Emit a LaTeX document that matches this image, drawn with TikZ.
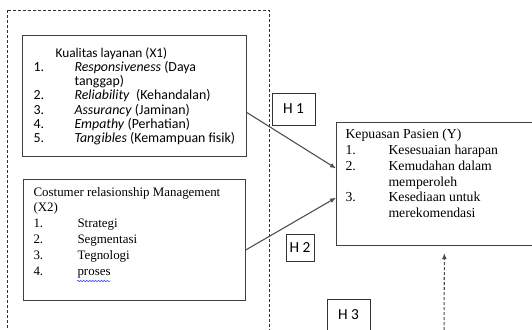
\documentclass[tikz,border=0pt]{standalone}
\usepackage{fontspec}
\setmainfont{Liberation Serif}
\newfontfamily\calibri{Carlito}
\usetikzlibrary{calc,arrows.meta,decorations.pathmorphing}
\begin{document}
\begin{tikzpicture}[x=0.75pt,y=-0.75pt,
  box/.style={draw=black!75,line width=0.8pt,inner sep=0pt,anchor=north west},
  hbox/.style={draw=black!80,line width=0.7pt,inner sep=0pt,font=\calibri\fontsize{11.5}{13}\selectfont},
  link/.style={draw=black!70,line width=0.8pt,-{Latex[length=4.5pt,width=3.6pt]}}]
  \useasboundingbox (0,0) rectangle (532,329);
  \clip (0,0) rectangle (532,329);
  \draw[black!80,line width=0.6pt,dash pattern=on 2.25pt off 1.5pt] (7,10) rectangle (269,345);
  \node[box] (kualitas) at (22,35) {\begin{minipage}[t][90.75pt][t]{168pt}\calibri\fontsize{10.4}{10.35}\selectfont
    \vspace*{8.8pt}
    \hspace*{8.25pt}\begin{tabular}[t]{@{}p{30.75pt}@{}l@{}}
      \multicolumn{2}{@{\hspace{16.5pt}}l@{}}{\fontsize{10}{10.35}\selectfont Kualitas layanan (X1)}\\
      1. & \textit{Responsiveness} (Daya\\
         & tanggap)\\
      2. & \textit{Reliability}\ \ (Kehandalan)\\
      3. & \textit{Assurancy} (Jaminan)\\
      4. & \textit{Empathy} (Perhatian)\\
      5. & \textit{Tangibles} (Kemampuan fisik)
    \end{tabular}\end{minipage}};
  \node[box] (crm) at (23,179) {\begin{minipage}[t][90.75pt][t]{166.5pt}\fontsize{9.7}{11.85}\selectfont
    \vspace*{4.2pt}
    \hspace*{7.5pt}\begin{tabular}[t]{@{}p{33pt}@{}l@{}}
      \multicolumn{2}{@{}l@{}}{Costumer relasionship Management}\\
      \multicolumn{2}{@{}l@{}}{(X2)}\\
      1. & Strategi\\
      2. & Segmentasi\\
      3. & Tegnologi\\
      4. & proses
    \end{tabular}\end{minipage}};
  \draw[blue!75,line width=0.45pt,decorate,decoration={snake,amplitude=0.5pt,segment length=2.2pt}]
    ($(crm.north west)+(54,102)$) -- ($(crm.north west)+(87,102)$);
  \node[box] (kepuasan) at (336,122) {\begin{minipage}[t][92.25pt][t]{156.75pt}\fontsize{10.3}{11.85}\selectfont
    \vspace*{3.8pt}
    \hspace*{6.75pt}\begin{tabular}[t]{@{}p{32.25pt}@{}l@{}}
      \multicolumn{2}{@{}l@{}}{Kepuasan Pasien (Y)}\\
      1. & Kesesuaian harapan\\
      2. & Kemudahan dalam\\
         & memperoleh\\
      3. & Kesediaan untuk\\
         & merekomendasi
    \end{tabular}\end{minipage}};
  \node[hbox,minimum width=32.25pt,minimum height=24pt] (hsatu) at (293.5,109) {H 1};
  \node[hbox,minimum width=21pt,minimum height=20.25pt] (hdua) at (300,247.5) {H 2};
  \node[hbox,minimum width=32.25pt,minimum height=24pt] (htiga) at (348.5,315) {H 3};
  \draw[link] ($(kualitas.north east)!0.636!(kualitas.south east)$) -- ($(kepuasan.north west)!0.374!(kepuasan.south west)$);
  \draw[link] ($(crm.north east)!0.58!(crm.south east)$) -- ($(kepuasan.north west)!0.61!(kepuasan.south west)$);
  \coordinate (bawah) at (444,345);
  \draw[link,dash pattern=on 2.25pt off 1.5pt,shorten >=5.25pt] (bawah) -- ($(kepuasan.south west)!0.516!(kepuasan.south east)$);
\end{tikzpicture}
\end{document}
